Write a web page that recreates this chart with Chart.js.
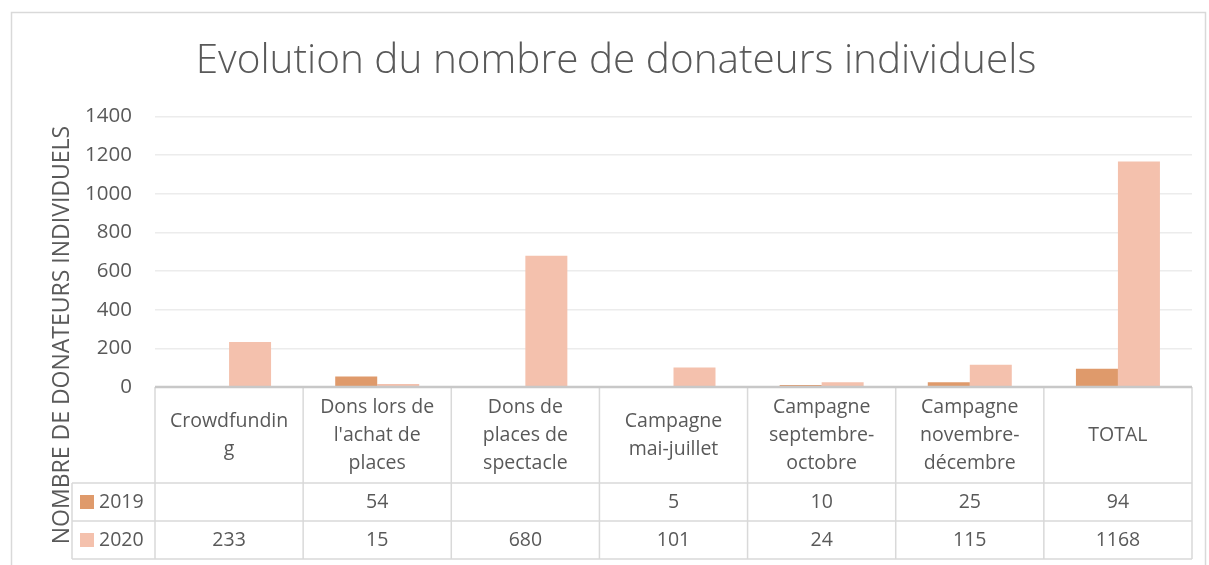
<!DOCTYPE html>
<html>
<head>
<meta charset="utf-8">
<script src="https://cdn.jsdelivr.net/npm/chart.js@4.4.1/dist/chart.umd.min.js"></script>
<style>
  html, body { margin: 0; padding: 0; background: #ffffff; }
  #wrap { width: 1209px; height: 565px; position: relative; }
</style>
</head>
<body>
<div id="wrap"><canvas id="c"></canvas></div>
<script>
// ---- data ----
const categories = [
  ["Crowdfundin", "g"],
  ["Dons lors de", "l'achat de", "places"],
  ["Dons de", "places de", "spectacle"],
  ["Campagne", "mai-juillet"],
  ["Campagne", "septembre-", "octobre"],
  ["Campagne", "novembre-", "décembre"],
  ["TOTAL"]
];
const seriesNames = ["2019", "2020"];
const values2019 = [null, 54, null, 5, 10, 25, 94];
const values2020 = [233, 15, 680, 101, 24, 115, 1168];
const yTicks = [0, 200, 400, 600, 800, 1000, 1200, 1400];

const titleText = "Evolution du nombre de donateurs individuels";
const yTitleText = "NOMBRE DE DONATEURS INDIVIDUELS";

const colors = ["#DF9A6B", "#F4C1AD"];
const textColor = "#595959";
const lineColor = "#d9d9d9";
const FONT = "'Open Sans', 'Noto Sans', sans-serif";

const tablePlugin = {
  id: 'tablePlugin',
  afterDraw(chart) {
    const ctx = chart.ctx;
    const area = chart.chartArea;
    const xs = chart.scales.x;
    const n = categories.length;
    const step = xs.getPixelForValue(1) - xs.getPixelForValue(0);
    const colEdge = i => xs.getPixelForValue(0) - step / 2 + i * step;
    const top = area.bottom;
    const headH = 96, rowH = 38;
    const legendLeft = 72;
    const r1 = top + headH, r2 = r1 + rowH, r3 = r2 + rowH;
    const rows = [values2019, values2020];

    ctx.save();
    // outer chart border
    ctx.strokeStyle = "#d9d9d9";
    ctx.lineWidth = 1.5;
    ctx.strokeRect(11.5, 12.5, 1194, 600);

    // y axis title
    ctx.save();
    ctx.translate(62, 335);
    ctx.rotate(-Math.PI / 2);
    ctx.fillStyle = textColor;
    ctx.font = "23px " + FONT;
    ctx.textAlign = "center";
    ctx.textBaseline = "middle";
    ctx.fillText(yTitleText, 0, 0);
    ctx.restore();

    // table grid lines
    ctx.strokeStyle = lineColor;
    ctx.lineWidth = 1.5;
    ctx.beginPath();
    for (let i = 0; i <= n; i++) {
      const x = colEdge(i);
      ctx.moveTo(x, top); ctx.lineTo(x, r3);
    }
    ctx.moveTo(legendLeft, r1); ctx.lineTo(legendLeft, r3);
    [r1, r2, r3].forEach(y => { ctx.moveTo(legendLeft, y); ctx.lineTo(colEdge(n), y); });
    ctx.stroke();
    // axis line on top of table
    ctx.strokeStyle = "#c8c8c8";
    ctx.lineWidth = 2.5;
    ctx.beginPath();
    ctx.moveTo(colEdge(0), top); ctx.lineTo(colEdge(n), top);
    ctx.stroke();

    // header text
    ctx.fillStyle = textColor;
    ctx.font = "19.5px " + FONT;
    ctx.textAlign = "center";
    ctx.textBaseline = "middle";
    const lh = 28;
    categories.forEach((lines, i) => {
      const cx = xs.getPixelForValue(i);
      const cy = top + headH / 2;
      const y0 = cy - (lines.length - 1) * lh / 2;
      lines.forEach((t, k) => ctx.fillText(t, cx, y0 + k * lh));
    });

    // data rows
    rows.forEach((vals, r) => {
      const cy = r1 + rowH * r + rowH / 2;
      vals.forEach((v, i) => {
        if (v !== null) ctx.fillText(String(v), xs.getPixelForValue(i), cy);
      });
      // legend key
      ctx.fillStyle = colors[r];
      ctx.fillRect(80, cy - 7, 14, 14);
      ctx.fillStyle = textColor;
      ctx.textAlign = "left";
      ctx.fillText(seriesNames[r], 99, cy);
      ctx.textAlign = "center";
    });
    ctx.restore();
  }
};

new Chart(document.getElementById('c'), {
  type: 'bar',
  data: {
    labels: categories,
    datasets: [
      { label: seriesNames[0], data: values2019, backgroundColor: colors[0] },
      { label: seriesNames[1], data: values2020, backgroundColor: colors[1] }
    ]
  },
  options: {
    responsive: true,
    maintainAspectRatio: false,
    animation: false,
    layout: { padding: { left: 40, right: 17, top: 0, bottom: 178 } },
    datasets: { bar: { categoryPercentage: 0.567, barPercentage: 1.0 } },
    plugins: {
      legend: { display: false },
      tooltip: { enabled: false },
      title: {
        display: true,
        text: titleText,
        color: textColor,
        font: { family: FONT, size: 40.5, weight: 300 },
        padding: { top: 37, bottom: 31 }
      }
    },
    scales: {
      x: { display: false },
      y: {
        min: 0, max: 1400,
        afterBuildTicks(scale) { scale.ticks = yTicks.map(v => ({ value: v })); },
        afterFit(scale) { scale.width = 115; },
        border: { display: false },
        grid: { color: "#ececec", lineWidth: 1.5, drawTicks: false },
        ticks: {
          color: textColor,
          font: { family: FONT, size: 20.5 },
          padding: 23,
          callback: v => String(v)
        }
      }
    }
  },
  plugins: [tablePlugin]
});
</script>
</body>
</html>
